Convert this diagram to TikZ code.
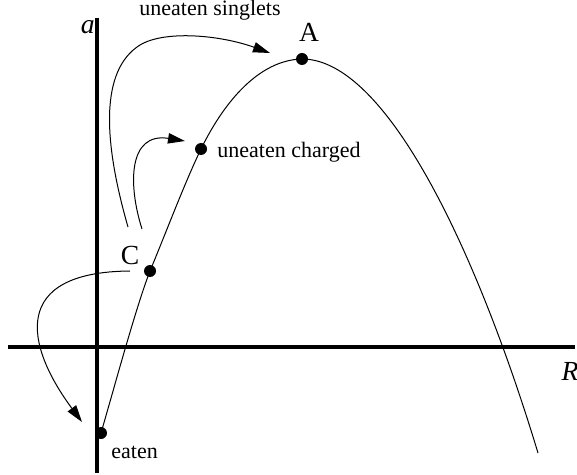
\documentclass[tikz,border=0pt]{standalone}
\usepackage{fontspec}
\setmainfont{Liberation Serif}
\usetikzlibrary{arrows.meta}
\begin{document}
\begin{tikzpicture}[x=0.5pt,y=-0.5pt,
  axis/.style={line width=1.8pt},
  curve/.style={line width=0.5pt},
  flow/.style={line width=0.5pt,-{Triangle[length=8.5pt,width=5.2pt]}},
  dot/.style={circle,fill=black,inner sep=0pt,minimum size=6pt},
  lbl/.style={font=\fontsize{11}{13}\selectfont,inner sep=0pt},
  big/.style={font=\fontsize{13.8}{16}\selectfont,inner sep=0pt}]
\useasboundingbox (0,0) rectangle (577,475);
% axes
\coordinate (ytop) at (97,18);
\coordinate (ybot) at (97,473);
\coordinate (xl) at (8,347);
\coordinate (xr) at (575,347);
\draw[axis] (ytop) -- (ybot);
\draw[axis] (xl) -- (xr);
% points
\coordinate (Ec) at (101,433);
\coordinate (Cc) at (150,271);
\coordinate (Hc) at (201,149);
\coordinate (Ac) at (302,59);
\coordinate (Zc) at (538,453);
% curve
\draw[curve] (Ec) .. controls (115,385) and (136,307) .. (Cc)
  .. controls (165,235) and (185,182) .. (Hc)
  .. controls (225,100) and (260,60) .. (Ac)
  .. controls (385,59) and (475,245) .. (Zc);
\node[dot] (E) at (Ec) {};
\node[dot] (Cp) at (Cc) {};
\node[dot] (Ch) at (Hc) {};
\node[dot] (Ap) at (Ac) {};
% labels
\node[lbl,anchor=base] (singlets) at (210,16) {uneaten singlets};
\node[lbl,anchor=base west] (charged) at (217,158) {uneaten charged};
\node[lbl,anchor=base west] (eaten) at (111,458) {eaten};
\node[big,anchor=base] (Alab) at (309,42) {A};
\node[big,anchor=base] (Clab) at (130,264) {C};
\node[big,anchor=base east] (alab) at (95,34) {\textit{a}};
\node[big,anchor=base] (Rlab) at (570,380) {\textit{R}};
% arrows
\coordinate (s1) at (128,227);
\coordinate (s2) at (142,229);
\coordinate (s3) at (130,271);
\coordinate (t1) at (270,53);
\coordinate (t2) at (185,141);
\coordinate (t3) at (82,422);
\coordinate (m1) at (140,45);
\draw[flow] (s1) .. controls (103,140) and (100,70) .. (m1) .. controls (165,30) and (220,35) .. (t1);
\draw[flow] (s2) .. controls (128,185) and (128,132) .. (t2);
\draw[flow] (s3) .. controls (10,272) and (25,345) .. (t3);
\end{tikzpicture}
\end{document}
